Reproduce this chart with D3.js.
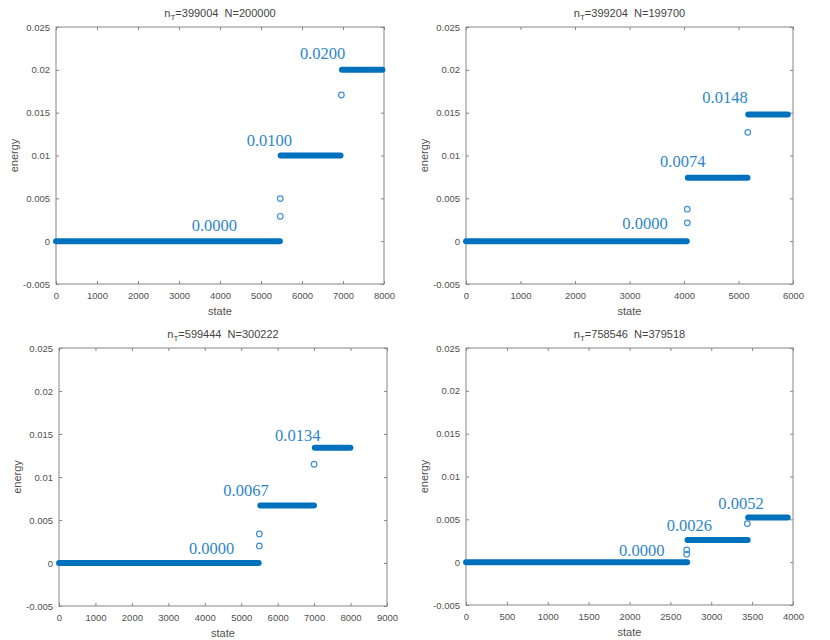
<!DOCTYPE html>
<html>
<head>
<meta charset="utf-8">
<script src="https://cdn.jsdelivr.net/npm/d3@7/dist/d3.min.js"></script>
<style>
  html, body { margin: 0; padding: 0; background: #ffffff; }
  svg { display: block; }
</style>
</head>
<body>
<svg id="chart" width="830" height="640"></svg>
<script>
// ---- data ----
const titleNT = ["399004", "399204", "599444", "758546"];
const titleN = ["200000", "199700", "300222", "379518"];
const xMax = [8000, 6000, 9000, 4000];
const xTickStep = [1000, 1000, 1000, 500];
const yTicks = [-0.005, 0, 0.005, 0.01, 0.015, 0.02, 0.025];
const yTickLabels = ["-0.005", "0", "0.005", "0.01", "0.015", "0.02", "0.025"];

// energy levels: [first state, last state, energy]
const levels1 = [[1, 5460, 0.0000], [5480, 6940, 0.0100], [6975, 7960, 0.0200]];
const levels2 = [[1, 4050, 0.0000], [4070, 5165, 0.0074], [5180, 5905, 0.0148]];
const levels3 = [[1, 5480, 0.0000], [5525, 6995, 0.0067], [7020, 7995, 0.0134]];
const levels4 = [[1, 2705, 0.0000], [2710, 3446, 0.0026], [3452, 3935, 0.0052]];

// isolated states: [state, energy]
const single1 = [[5470, 0.00497], [5470, 0.0029], [6960, 0.01706]];
const single2 = [[4060, 0.00373], [4060, 0.00214], [5170, 0.0127]];
const single3 = [[5497, 0.00337], [5497, 0.00198], [7000, 0.01148]];
const single4 = [[2700, 0.00144], [2700, 0.00093], [3441, 0.0045]];

// annotations: [state (left), energy (middle), text]
const notes1 = [[3310, 0.00186, "0.0000"], [4650, 0.01179, "0.0100"], [5951, 0.02194, "0.0200"]];
const notes2 = [[2868, 0.0021, "0.0000"], [3560, 0.0093, "0.0074"], [4336, 0.01684, "0.0148"]];
const notes3 = [[3567, 0.00166, "0.0000"], [4510, 0.00846, "0.0067"], [5927, 0.01485, "0.0134"]];
const notes4 = [[1872, 0.00144, "0.0000"], [2455, 0.0043, "0.0026"], [3086, 0.00688, "0.0052"]];

const allLevels = [levels1, levels2, levels3, levels4];
const allSingles = [single1, single2, single3, single4];
const allNotes = [notes1, notes2, notes3, notes4];

// ---- layout ----
const boxes = [
  {l: 56, r: 384, t: 27, b: 284},
  {l: 466, r: 793, t: 27, b: 284},
  {l: 59, r: 387, t: 348, b: 606},
  {l: 466, r: 793, t: 348, b: 605}
];

const svg = d3.select("#chart");
const axisColor = "#858585";
const textColor = "#505050";
const blue = "#0072BD";
const lightBlue = "#3f8fd4";
const sans = "'Liberation Sans', Arial, Helvetica, sans-serif";
const serif = "'Liberation Serif', 'Times New Roman', serif";

boxes.forEach((bx, i) => {
  const x = d3.scaleLinear().domain([0, xMax[i]]).range([bx.l, bx.r]);
  const y = d3.scaleLinear().domain([-0.005, 0.025]).range([bx.b, bx.t]);
  const g = svg.append("g");
  const xt = d3.range(0, xMax[i] + 1, xTickStep[i]);

  // box
  g.append("rect")
    .attr("x", bx.l).attr("y", bx.t)
    .attr("width", bx.r - bx.l).attr("height", bx.b - bx.t)
    .attr("fill", "none").attr("stroke", axisColor).attr("stroke-width", 1);

  // axes (ticks inside)
  const axB = d3.axisBottom(x).tickValues(xt).tickSizeInner(-3).tickSizeOuter(0).tickPadding(8).tickFormat(d3.format("d"));
  const axT = d3.axisTop(x).tickValues(xt).tickSizeInner(-3).tickSizeOuter(0).tickFormat("");
  const axL = d3.axisLeft(y).tickValues(yTicks).tickSizeInner(-3).tickSizeOuter(0).tickPadding(6)
    .tickFormat((d, k) => yTickLabels[k]);
  const axR = d3.axisRight(y).tickValues(yTicks).tickSizeInner(-3).tickSizeOuter(0).tickFormat("");

  [[axB, `translate(0,${bx.b})`], [axT, `translate(0,${bx.t})`],
   [axL, `translate(${bx.l},0)`], [axR, `translate(${bx.r},0)`]].forEach(([ax, tr]) => {
    const a = g.append("g").attr("transform", tr).call(ax);
    a.select(".domain").remove();
    a.selectAll("line").attr("stroke", axisColor);
    a.selectAll("text").attr("fill", textColor).style("font-family", sans).style("font-size", "9.5px");
  });

  // title
  const title = g.append("text")
    .attr("x", (bx.l + bx.r) / 2).attr("y", bx.t - 10)
    .attr("text-anchor", "middle")
    .style("white-space", "pre")
    .style("font-family", sans).style("font-size", "11px").attr("fill", "#444");
  title.append("tspan").text("n");
  title.append("tspan").text("T").attr("dy", 3).style("font-size", "8px");
  title.append("tspan").text("=" + titleNT[i] + "  N=" + titleN[i]).attr("dy", -3);

  // axis labels
  g.append("text")
    .attr("x", (bx.l + bx.r) / 2).attr("y", bx.b + 31)
    .attr("text-anchor", "middle")
    .style("font-family", sans).style("font-size", "11px").attr("fill", textColor)
    .text("state");
  g.append("text")
    .attr("transform", `translate(${bx.l - 38},${(bx.t + bx.b) / 2}) rotate(-90)`)
    .attr("text-anchor", "middle")
    .style("font-family", sans).style("font-size", "11px").attr("fill", textColor)
    .text("energy");

  // levels (densely packed markers)
  g.selectAll(".lvl").data(allLevels[i]).enter().append("line")
    .attr("x1", d => x(d[0])).attr("x2", d => x(d[1]))
    .attr("y1", d => y(d[2])).attr("y2", d => y(d[2]))
    .attr("stroke", blue).attr("stroke-width", 6).attr("stroke-linecap", "round");

  // isolated states
  g.selectAll(".pt").data(allSingles[i]).enter().append("circle")
    .attr("cx", d => x(d[0])).attr("cy", d => y(d[1]))
    .attr("r", 2.8)
    .attr("fill", "none").attr("stroke", lightBlue).attr("stroke-width", 1.2);

  // annotations
  g.selectAll(".note").data(allNotes[i]).enter().append("text")
    .attr("x", d => x(d[0])).attr("y", d => y(d[1]))
    .attr("dy", "0.35em")
    .style("font-family", serif).style("font-size", "16.5px")
    .attr("fill", "#2e86c9")
    .text(d => d[2]);
});
</script>
</body>
</html>
